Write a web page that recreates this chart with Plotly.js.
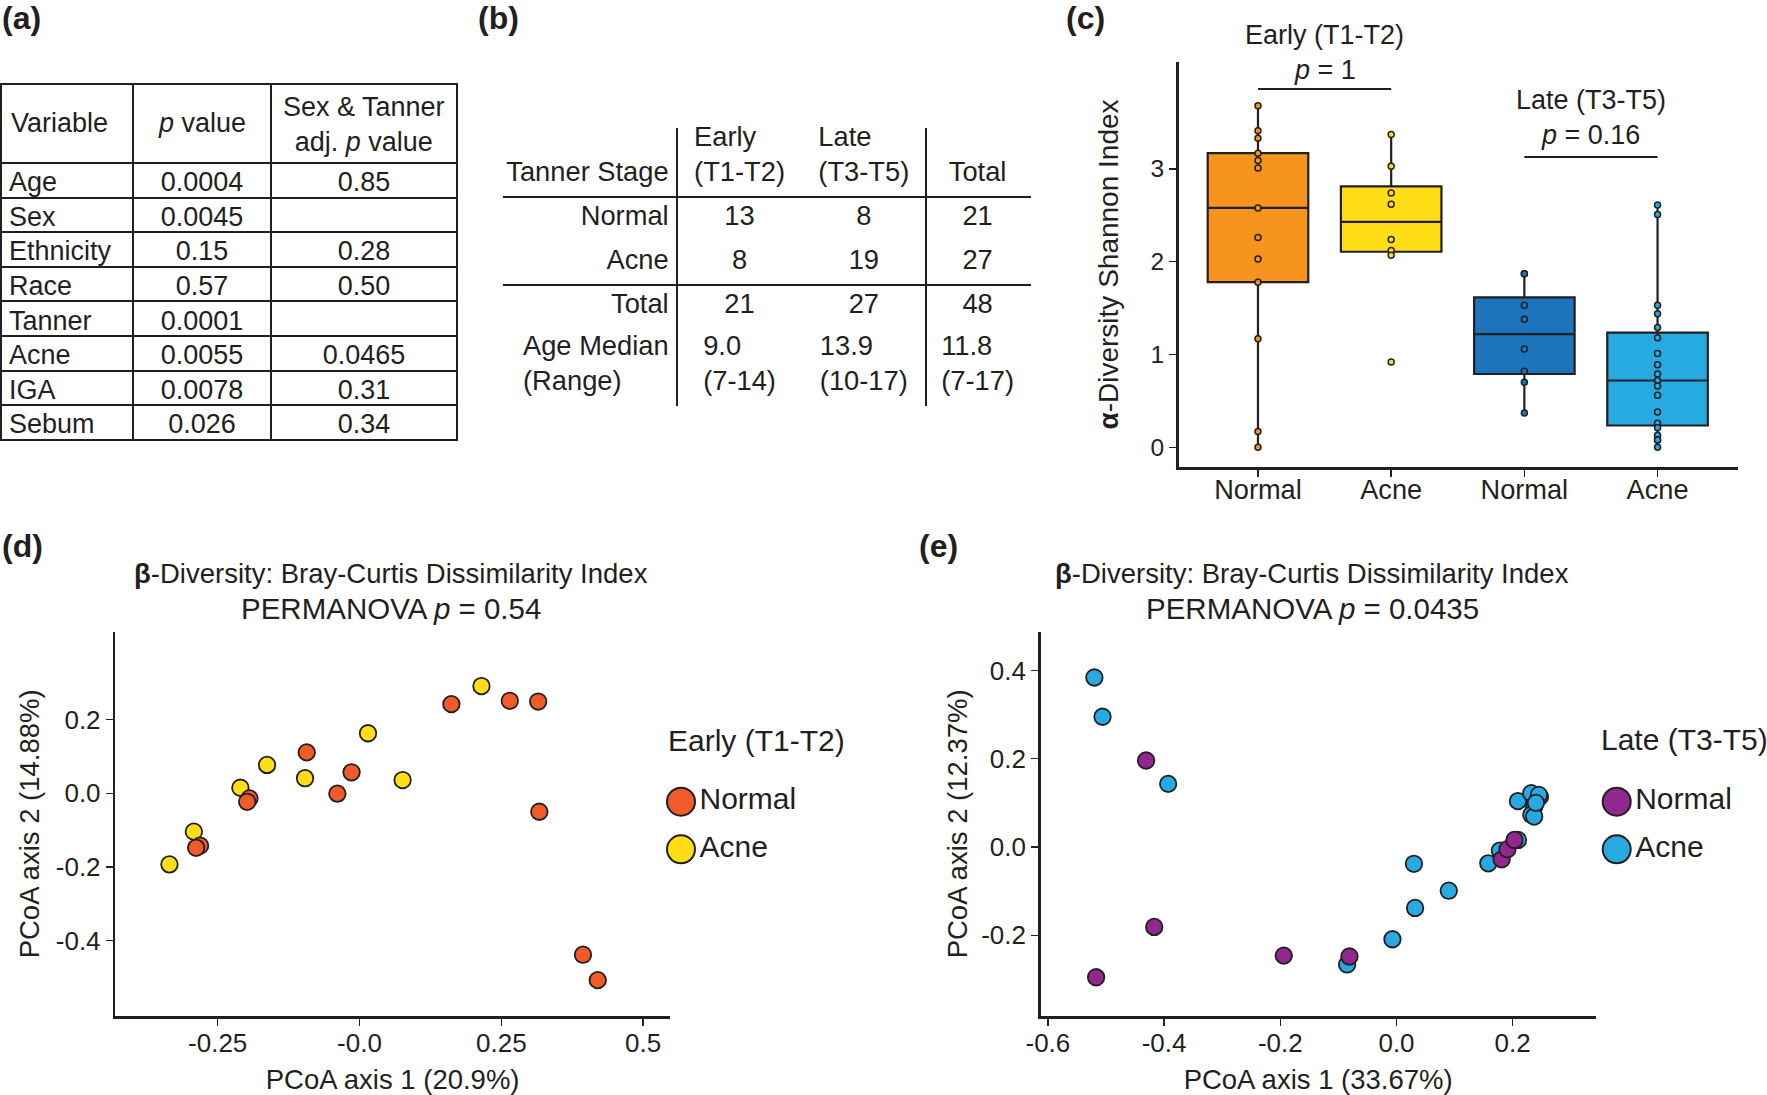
<!DOCTYPE html>
<html><head><meta charset="utf-8">
<script src="https://cdn.plot.ly/plotly-3.0.1.min.js"></script>
<style>html,body{margin:0;padding:0;background:#fff}#chart{width:1767px;height:1095px}</style>
</head><body><div id="chart"></div>
<script>
// ---------------- DATA ----------------
// (a) association table
const varNames   = ['Age', 'Sex', 'Ethnicity', 'Race', 'Tanner', 'Acne', 'IGA', 'Sebum'];
const pValues    = ['0.0004', '0.0045', '0.15', '0.57', '0.0001', '0.0055', '0.0078', '0.026'];
const adjPValues = ['0.85', '', '0.28', '0.50', '', '0.0465', '0.31', '0.34'];
const tableAHeader = ['Variable', '<i>p</i> value', 'Sex &amp; Tanner<br>adj. <i>p</i> value'];

// (b) cohort table
const stageHeader = ['Tanner Stage', 'Early<br>(T1-T2)', 'Late<br>(T3-T5)', 'Total'];
const rowLabels   = ['Normal', 'Acne', 'Total', 'Age Median<br>(Range)'];
const earlyCol    = ['13', '8', '21', '9.0<br>(7-14)'];
const lateCol     = ['8', '19', '27', '13.9<br>(10-17)'];
const totalCol    = ['21', '27', '48', '11.8<br>(7-17)'];

// (c) alpha diversity (Shannon index)
const boxGroups     = ['Early Normal', 'Early Acne', 'Late Normal', 'Late Acne'];
const boxTickLabels = ['Normal', 'Acne', 'Normal', 'Acne'];
const shannonEarlyNormal = [3.68, 3.41, 3.33, 3.17, 3.09, 3.01, 2.58, 2.26, 2.03, 1.78, 1.17, 0.17, 0.00];
const shannonEarlyAcne   = [3.37, 3.03, 2.74, 2.62, 2.24, 2.12, 2.07, 0.92];
const shannonLateNormal  = [1.87, 1.87, 1.53, 1.38, 1.06, 0.82, 0.70, 0.37];
const shannonLateAcne    = [2.61, 2.51, 1.53, 1.44, 1.29, 1.18, 1.01, 0.89, 0.79, 0.72, 0.66, 0.56, 0.38, 0.26, 0.21, 0.13, 0.08, 0.08, 0.00];
const stageNames = ['Early (T1-T2)', 'Late (T3-T5)'];
const wilcoxP    = ['1', '0.16'];

// (d) PCoA early
const earlyNormalPC1 = [0.162, 0.265, 0.315, 0.317, -0.093, -0.014, -0.039, -0.194, -0.198, -0.281, -0.288, 0.394, 0.420];
const earlyNormalPC2 = [0.242, 0.251, 0.249, -0.050, 0.111, 0.057, -0.001, -0.014, -0.023, -0.142, -0.148, -0.438, -0.507];
const earlyAcnePC1   = [0.215, 0.015, -0.163, -0.096, 0.076, -0.210, -0.292, -0.335];
const earlyAcnePC2   = [0.291, 0.163, 0.077, 0.041, 0.036, 0.015, -0.104, -0.193];

// (e) PCoA late
const lateNormalPC1 = [-0.431, -0.417, -0.517, -0.194, -0.081, 0.181, 0.191, 0.203];
const lateNormalPC2 = [0.196, -0.181, -0.295, -0.246, -0.248, -0.028, -0.005, 0.016];
const lateAcnePC1   = [-0.520, -0.506, -0.393, 0.030, 0.090, 0.032, -0.007, -0.085, 0.158, 0.178, 0.209, 0.209, 0.232, 0.247, 0.237, 0.232, 0.237, 0.245, 0.240];
const lateAcnePC2   = [0.384, 0.295, 0.143, -0.038, -0.099, -0.138, -0.209, -0.266, -0.037, -0.008, 0.016, 0.104, 0.122, 0.114, 0.091, 0.073, 0.069, 0.118, 0.100];

const legendLabels = ['Normal', 'Acne'];
const permanovaP   = ['0.54', '0.0435'];
const pc1Pct = ['20.9%', '33.67%'];
const pc2Pct = ['14.88%', '12.37%'];

// ---------------- STYLE ----------------
const W = 1767, H = 1095;
const X = px => px / W;
const Y = py => 1 - py / H;
const FONT = '"Liberation Sans", Arial, Helvetica, sans-serif';
const INK = '#231f20';
const boxColors = ['#F7941D', '#FFDE17', '#1C75BC', '#27AAE1'];
const earlyColors = ['#F15A29', '#FFDE17'];
const lateColors  = ['#92278F', '#27AAE1'];

// ggplot-style (type 7) box statistics from the samples
function quant7(s, p) {
  const h = (s.length - 1) * p, lo = Math.floor(h), hi = Math.ceil(h);
  return s[lo] + (h - lo) * (s[hi] - s[lo]);
}
function boxStats(vals) {
  const s = vals.slice().sort((a, b) => a - b);
  const q1 = quant7(s, 0.25), med = quant7(s, 0.5), q3 = quant7(s, 0.75), iqr = q3 - q1;
  const inside = s.filter(v => v >= q1 - 1.5 * iqr && v <= q3 + 1.5 * iqr);
  return {q1, med, q3, lf: inside[0], uf: inside[inside.length - 1]};
}

const traces = [];

// (a) table: grid + body cells (header text as annotations, centred)
traces.push({
  type: 'table',
  domain: {x: [X(1), X(457)], y: [Y(446), Y(84)]},
  columnwidth: [132, 138, 186],
  header: {
    values: tableAHeader.map(() => ''),
    height: 79,
    line: {color: INK, width: 2},
    fill: {color: 'white'},
    font: {family: FONT, size: 27, color: INK}
  },
  cells: {
    values: [varNames, pValues, adjPValues],
    align: ['left', 'center', 'center'],
    height: 34.6,
    line: {color: INK, width: 2},
    fill: {color: 'white'},
    font: {family: FONT, size: 27, color: INK}
  }
});

// (b) table (text only; rules drawn as shapes)
const tableBCols = [rowLabels, earlyCol, lateCol, totalCol];
const nB = rowLabels.length;
const tableBStyle = {
  line: {color: 'rgba(0,0,0,0)', width: 0},
  fill: {color: 'rgba(0,0,0,0)'},
  font: {family: FONT, size: 27.3, color: INK},
  align: ['right', 'center', 'center', 'center']
};
traces.push({
  type: 'table',
  domain: {x: [X(503), X(1031)], y: [Y(320), Y(113)]},
  columnwidth: [174, 126, 123, 105],
  header: Object.assign({values: stageHeader.map(h => h.indexOf('<br>') >= 0 ? h : '\u00A0<br>' + h), height: 84}, tableBStyle),
  cells: Object.assign({values: tableBCols.map(c => c.slice(0, nB - 1)), height: 44}, tableBStyle)
});
// last (two-line) row of table (b)
traces.push({
  type: 'table',
  domain: {x: [X(503), X(1031)], y: [Y(430), Y(321.5)]},
  columnwidth: [174, 126, 123, 105],
  header: Object.assign({values: tableBCols.map(c => c[nB - 1]), height: 84}, tableBStyle)
});

// (c) boxes (stats from samples) + sample points
const shannon = [shannonEarlyNormal, shannonEarlyAcne, shannonLateNormal, shannonLateAcne];
boxGroups.forEach((g, i) => {
  const st = boxStats(shannon[i]);
  traces.push({
    type: 'box', x: [g], q1: [st.q1], median: [st.med], q3: [st.q3],
    lowerfence: [st.lf], upperfence: [st.uf], boxpoints: false,
    xaxis: 'x3', yaxis: 'y3',
    fillcolor: boxColors[i], line: {color: INK, width: 2.2},
    width: 0.755, whiskerwidth: 0, hoverinfo: 'skip', showlegend: false
  });
});
boxGroups.forEach((g, i) => {
  traces.push({
    type: 'scatter', mode: 'markers', x: shannon[i].map(() => g), y: shannon[i],
    xaxis: 'x3', yaxis: 'y3', cliponaxis: false,
    marker: {size: 6, color: boxColors[i], line: {color: INK, width: 1.5}},
    hoverinfo: 'skip', showlegend: false
  });
});

// (d) and (e) scatter: acne first, normal on top
const ptMarker = c => ({size: 16.5, color: c, line: {color: INK, width: 1.8}});
traces.push({type: 'scatter', mode: 'markers', x: earlyAcnePC1, y: earlyAcnePC2, xaxis: 'x', yaxis: 'y',
  marker: ptMarker(earlyColors[1]), showlegend: false, hoverinfo: 'skip'});
traces.push({type: 'scatter', mode: 'markers', x: earlyNormalPC1, y: earlyNormalPC2, xaxis: 'x', yaxis: 'y',
  marker: ptMarker(earlyColors[0]), showlegend: false, hoverinfo: 'skip'});
traces.push({type: 'scatter', mode: 'markers', x: lateAcnePC1, y: lateAcnePC2, xaxis: 'x2', yaxis: 'y2',
  marker: ptMarker(lateColors[1]), showlegend: false, hoverinfo: 'skip'});
traces.push({type: 'scatter', mode: 'markers', x: lateNormalPC1, y: lateNormalPC2, xaxis: 'x2', yaxis: 'y2',
  marker: ptMarker(lateColors[0]), showlegend: false, hoverinfo: 'skip'});

// legends as keyed scatter on hidden axes
[['x4', 'y4', earlyColors, stageNames[0]], ['x5', 'y5', lateColors, stageNames[1]]].forEach(([xa, ya, cols, st]) => {
  traces.push({
    type: 'scatter', mode: 'markers+text', xaxis: xa, yaxis: ya,
    x: legendLabels.map(() => st), y: legendLabels, text: legendLabels,
    textposition: 'middle right', cliponaxis: false,
    textfont: {family: FONT, size: 30, color: INK},
    marker: {size: 28, color: cols, line: {color: INK, width: 2}},
    showlegend: false, hoverinfo: 'skip'
  });
});

// ---------------- LAYOUT ----------------
const axBase = {
  showline: true, linecolor: INK, linewidth: 2.5, ticks: 'outside', ticklen: 7, tickwidth: 1.5,
  tickcolor: INK, showgrid: false, zeroline: false, fixedrange: true,
  tickfont: {family: FONT, size: 26, color: INK}
};
const hidden = {visible: false, showgrid: false, zeroline: false, fixedrange: true};
const ttl = (t, so) => ({text: t, font: {size: 27.5, family: FONT, color: INK}, standoff: so});

const layout = {
  width: W, height: H, margin: {l: 0, r: 0, t: 0, b: 0},
  paper_bgcolor: 'white', plot_bgcolor: 'rgba(0,0,0,0)',
  font: {family: FONT, color: INK}, showlegend: false, hovermode: false,
  xaxis: Object.assign({}, axBase, {
    domain: [X(115.3), X(670)], anchor: 'y', range: [-0.4305, 0.5474],
    tickvals: [-0.25, 0, 0.25, 0.5], ticktext: ['-0.25', '-0.0', '0.25', '0.5'], ticklabelstandoff: -5,
    title: ttl('PCoA axis 1 (' + pc1Pct[0] + ')', 14)
  }),
  yaxis: Object.assign({}, axBase, {
    domain: [Y(1016), Y(631.7)], anchor: 'x', range: [-0.6043, 0.4385],
    tickvals: [0.2, 0, -0.2, -0.4], ticktext: ['0.2', '0.0', '-0.2', '-0.4'],
    title: ttl('PCoA axis 2 (' + pc2Pct[0] + ')', 8)
  }),
  xaxis2: Object.assign({}, axBase, {
    domain: [X(1040.7), X(1595.6)], anchor: 'y2', range: [-0.6124, 0.3427],
    tickvals: [-0.6, -0.4, -0.2, 0, 0.2], ticktext: ['-0.6', '-0.4', '-0.2', '0.0', '0.2'], ticklabelstandoff: -5,
    title: ttl('PCoA axis 1 (' + pc1Pct[1] + ')', 14)
  }),
  yaxis2: Object.assign({}, axBase, {
    domain: [Y(1016), Y(631.7)], anchor: 'x2', range: [-0.3828, 0.4877],
    tickvals: [0.4, 0.2, 0, -0.2], ticktext: ['0.4', '0.2', '0.0', '-0.2'],
    title: ttl('PCoA axis 2 (' + pc2Pct[1] + ')', 6)
  }),
  xaxis3: Object.assign({}, axBase, {
    domain: [X(1178.6), X(1737.6)], anchor: 'y3', type: 'category', range: [-0.596, 3.601],
    categoryorder: 'array', categoryarray: boxGroups,
    tickvals: boxGroups, ticktext: boxTickLabels, ticklabelstandoff: -10,
    tickfont: {family: FONT, size: 27.2, color: INK}
  }),
  yaxis3: Object.assign({}, axBase, {
    domain: [Y(467), Y(62)], anchor: 'x3', range: [-0.212, 4.152],
    tickvals: [0, 1, 2, 3], ticktext: ['0', '1', '2', '3'],
    tickfont: {family: FONT, size: 24.5, color: INK},
    title: {text: '<b>α</b>-Diversity Shannon Index', font: {size: 28, family: FONT, color: INK}, standoff: 24}
  }),
  xaxis4: Object.assign({}, hidden, {domain: [X(671), X(691)], anchor: 'y4', type: 'category', range: [-0.5, 0.5]}),
  yaxis4: Object.assign({}, hidden, {domain: [Y(873.1), Y(777.9)], anchor: 'x4', type: 'category', range: [1.5, -0.5]}),
  xaxis5: Object.assign({}, hidden, {domain: [X(1606.7), X(1626.7)], anchor: 'y5', type: 'category', range: [-0.5, 0.5]}),
  yaxis5: Object.assign({}, hidden, {domain: [Y(873.1), Y(777.9)], anchor: 'x5', type: 'category', range: [1.5, -0.5]}),
  shapes: [
    // table (b) rules
    {type: 'line', xref: 'paper', yref: 'paper', x0: X(503), x1: X(1031), y0: Y(197), y1: Y(197), line: {color: INK, width: 2}},
    {type: 'line', xref: 'paper', yref: 'paper', x0: X(503), x1: X(1031), y0: Y(285), y1: Y(285), line: {color: INK, width: 2}},
    {type: 'line', xref: 'paper', yref: 'paper', x0: X(677), x1: X(677), y0: Y(128), y1: Y(406), line: {color: INK, width: 2}},
    {type: 'line', xref: 'paper', yref: 'paper', x0: X(926), x1: X(926), y0: Y(128), y1: Y(406), line: {color: INK, width: 2}},
    // (c) comparison brackets
    {type: 'line', xref: 'x3', yref: 'paper', x0: 0, x1: 1, y0: Y(89), y1: Y(89), line: {color: INK, width: 2}},
    {type: 'line', xref: 'x3', yref: 'paper', x0: 2, x1: 3, y0: Y(157), y1: Y(157), line: {color: INK, width: 2}}
  ],
  annotations: []
};

const A = layout.annotations;
const note = (t, x, y, xa, size, extra) => A.push(Object.assign({text: t, xref: 'paper', yref: 'paper', x: x, y: y,
  xanchor: xa, yanchor: 'middle', showarrow: false, font: {family: FONT, size: size, color: INK}}, extra || {}));

// panel labels
[['(a)', 0, 18], ['(b)', 476, 18], ['(c)', 1064, 18], ['(d)', 0, 546], ['(e)', 917, 546]].forEach(([t, px, py]) =>
  note('<b>' + t + '</b>', X(px), Y(py), 'left', 32));

// (a) header texts (vertically centred in the header row)
note(tableAHeader[0], X(9), Y(123), 'left', 27);
note(tableAHeader[1], X(202), Y(123), 'center', 27);
note(tableAHeader[2], X(364), Y(125), 'center', 27);

// (c) comparison labels
[[0.5, 35, 70], [2.5, 100, 135]].forEach(([cx, y1, y2], i) => {
  A.push({text: stageNames[i], xref: 'x3', yref: 'paper', x: cx, y: Y(y1), showarrow: false, xanchor: 'center', yanchor: 'middle',
    font: {family: FONT, size: 27, color: INK}});
  A.push({text: '<i>p</i> = ' + wilcoxP[i], xref: 'x3', yref: 'paper', x: cx, y: Y(y2), showarrow: false, xanchor: 'center', yanchor: 'middle',
    font: {family: FONT, size: 27, color: INK}});
});

// (d)/(e) titles
[[391, 0], [1312, 1]].forEach(([cx, i]) => {
  note('<b>β</b>-Diversity: Bray-Curtis Dissimilarity Index', X(cx), Y(573), 'center', 27.5);
  note('PERMANOVA <i>p</i> = ' + permanovaP[i], X(cx), Y(608), 'center', 29.5);
});

// legend titles
note(stageNames[0], X(666), Y(740), 'left', 30);
note(stageNames[1], X(1599), Y(739), 'left', 30);

Plotly.newPlot('chart', traces, layout, {staticPlot: true, displayModeBar: false});
</script></body></html>
